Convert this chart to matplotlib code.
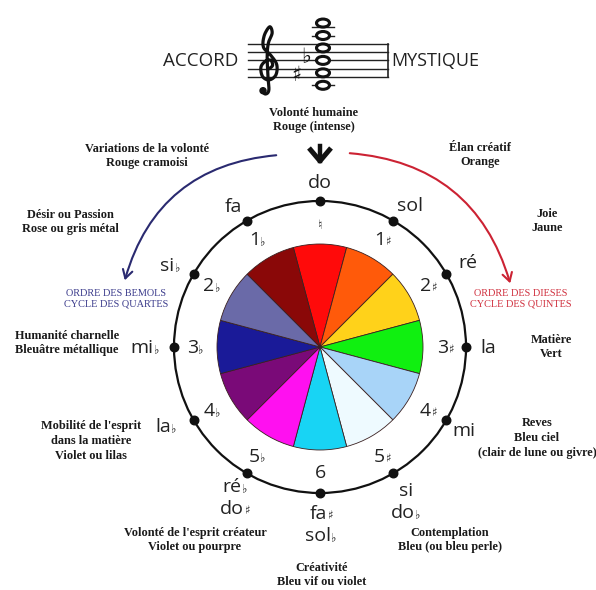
import numpy as np
import matplotlib
matplotlib.use("Agg")
import matplotlib.pyplot as plt
from matplotlib.patches import Ellipse, FancyArrowPatch, Circle

# ---------------- data ----------------
slice_values = [1] * 12
slice_colors = ["#ff0a0a", "#ff5a0a", "#ffd21a", "#10f010", "#a8d4f8", "#eefaff",
                "#18d4f4", "#ff10f0", "#7a0a78", "#1a1a98", "#6a6aa8", "#8a0808"]
# outer note names (clockwise from top); each entry = lines, each line = list of (text, is_accidental)
note_names = [
    [[("do", 0)]],
    [[("sol", 0)]],
    [[("ré", 0)]],
    [[("la", 0)]],
    [[("mi", 0)]],
    [[("si", 0)], [("do", 0), ("♭", 1)]],
    [[("fa", 0), ("♯", 1)], [("sol", 0), ("♭", 1)]],
    [[("ré", 0), ("♭", 1)], [("do", 0), ("♯", 1)]],
    [[("la", 0), ("♭", 1)]],
    [[("mi", 0), ("♭", 1)]],
    [[("si", 0), ("♭", 1)]],
    [[("fa", 0)]],
]
accidental_counts = [
    [("♮", 1)], [("1", 0), ("♯", 1)], [("2", 0), ("♯", 1)], [("3", 0), ("♯", 1)],
    [("4", 0), ("♯", 1)], [("5", 0), ("♯", 1)], [("6", 0)], [("5", 0), ("♭", 1)],
    [("4", 0), ("♭", 1)], [("3", 0), ("♭", 1)], [("2", 0), ("♭", 1)], [("1", 0), ("♭", 1)],
]
descriptions = [
    "Volonté humaine\nRouge (intense)",
    "Variations de la volonté\nRouge cramoisi",
    "Élan créatif\nOrange",
    "Désir ou Passion\nRose ou gris métal",
    "Joie\nJaune",
    "Humanité charnelle\nBleuâtre métallique",
    "Matière\nVert",
    "Mobilité de l'esprit\ndans la matière\nViolet ou lilas",
    "Reves\nBleu ciel\n(clair de lune ou givre)",
    "Volonté de l'esprit créateur\nViolet ou pourpre",
    "Contemplation\nBleu (ou bleu perle)",
    "Créativité\nBleu vif ou violet",
]
flats_caption = "ORDRE DES BEMOLS\nCYCLE DES QUARTES"
sharps_caption = "ORDRE DES DIESES\nCYCLE DES QUINTES"
title_left = "ACCORD"
title_right = "MYSTIQUE"
chord_steps = [-2, 1, 4, 7, 10, 13]     # staff steps above E4: C4 F#4 Bb4 E5 A5 D6
chord_accidentals = {1: "♯", 4: "♭"}

# ---------------- layout ----------------
W, H = 596, 590
fig = plt.figure(figsize=(W / 100, H / 100), dpi=100)
ax = fig.add_axes([0, 0, 1, 1])
CX, CY = 320, 347
R_PIE, R_RING, R_IN, R_OUT = 103, 146, 125, 166
NOTE_FONT = ["Open Sans", "DejaVu Sans"]
SERIF = ["Liberation Serif", "DejaVu Serif"]
renderer = fig.canvas.get_renderer()

ax.pie(slice_values, colors=slice_colors, startangle=255, counterclock=True,
       radius=R_PIE, center=(CX, CY),
       wedgeprops=dict(edgecolor="#3a2020", linewidth=0.6))
ax.set_xlim(0, W)
ax.set_ylim(H, 0)
ax.set_aspect("equal")
ax.axis("off")

angles = np.deg2rad(np.arange(12) * 30.0)


def pos(r, th):
    return CX + r * np.sin(th), CY - r * np.cos(th)


ring = plt.Circle((CX, CY), R_RING, fill=False, color="#111", lw=1.6)
ax.add_patch(ring)
dx, dy = pos(R_RING, angles)
ax.scatter(dx, dy, s=38, color="#111", zorder=5)


def rich_line(x, y, segs, fs, color="#222"):
    objs = []
    for s, small in segs:
        t = ax.text(0, y, s, fontsize=fs * (0.6 if small else 1.0), ha="left",
                    va="baseline", family=NOTE_FONT, color=color)
        objs.append(t)
    widths = [o.get_window_extent(renderer=renderer).width for o in objs]
    total = sum(widths)
    cur = x - total / 2
    for o, w in zip(objs, widths):
        o.set_x(cur)
        cur += w


def rich_block(x, y, lines, fs, lh):
    n = len(lines)
    for i, line in enumerate(lines):
        ly = y + (i - (n - 1) / 2) * lh + fs * 0.45
        rich_line(x, ly, line, fs)


# outer labels
outer_off = [(0, 1), (7, 1), (4, -2), (2, 0), (0, 0), (3, 10), (1, 11), (-2, 6),
             (-10, -4), (-9, 0), (-6, 1), (-4, 2)]
for i, lines in enumerate(note_names):
    x, y = pos(R_OUT, angles[i])
    ox, oy = outer_off[i]
    rich_block(x + ox, y + oy, lines, 14, 22)

# inner labels
for i, line in enumerate(accidental_counts):
    x, y = pos(R_IN, angles[i])
    fs = 14 if i != 0 else 15
    rich_block(x, y, [line], fs, 20)

# descriptions
desc_pos = [(314, 120), (147, 156), (480, 155), (70, 222), (547, 221), (67, 343),
            (551, 347), (91, 441), (537, 438), (195, 540), (450, 540), (322, 575)]
for txt, (x, y) in zip(descriptions, desc_pos):
    ax.text(x, y, txt, ha="center", va="center", multialignment="center",
            fontsize=8.8, fontweight="bold", family=SERIF, color="#1a1a1a",
            linespacing=1.32)

ax.text(116, 299, flats_caption, ha="center", va="center", fontsize=7.4,
        family=SERIF, color="#3c3c8c", linespacing=1.15)
ax.text(521, 299, sharps_caption, ha="center", va="center", fontsize=7.4,
        family=SERIF, color="#d0303e", linespacing=1.15)

# curved arrows
blue = FancyArrowPatch((279, 155), (124, 283), connectionstyle="arc3,rad=0.35",
                       arrowstyle="->,head_length=6,head_width=3.5", color="#2a2a70",
                       lw=1.5, mutation_scale=1)
red = FancyArrowPatch((347, 153), (511, 286), connectionstyle="arc3,rad=-0.35",
                      arrowstyle="->,head_length=6,head_width=3.5", color="#cc2233",
                      lw=1.5, mutation_scale=1)
ax.add_patch(blue)
ax.add_patch(red)

# chevron at top
ax.plot([309, 320, 331], [148, 161, 148], color="#111", lw=3.6, solid_capstyle="butt")
ax.plot([320, 320], [146, 161], color="#111", lw=3.2)

# staff
STAFF_X0, STAFF_X1, STAFF_BOTTOM, STEP = 248, 388, 77, 4.15
for k in range(5):
    yy = STAFF_BOTTOM - 2 * k * STEP
    ax.plot([STAFF_X0, STAFF_X1], [yy, yy], color="#222", lw=1.0)
ax.plot([STAFF_X1, STAFF_X1], [STAFF_BOTTOM, STAFF_BOTTOM - 8 * STEP], color="#222", lw=1.2)


# treble clef (no installed font has U+1D11E) drawn as a smooth shape
def catmull(pts, n=12):
    pts = np.asarray(pts, float)
    P = np.vstack([pts[0], pts, pts[-1]])
    out = []
    for i in range(1, len(P) - 2):
        p0, p1, p2, p3 = P[i - 1], P[i], P[i + 1], P[i + 2]
        for t in np.linspace(0, 1, n, endpoint=False):
            t2, t3 = t * t, t * t * t
            out.append(0.5 * ((2 * p1) + (-p0 + p2) * t + (2 * p0 - 5 * p1 + 4 * p2 - p3) * t2
                              + (-p0 + 3 * p1 - 3 * p2 + p3) * t3))
    out.append(P[-2])
    return np.array(out)


clef_units = [(0.15, 1.0), (0.55, 1.4), (0.35, 2.0), (-0.25, 1.95), (-0.85, 1.2),
              (-0.65, 0.05), (0.15, -0.35), (0.95, 0.25), (1.05, 1.5), (0.35, 2.6),
              (-0.55, 3.6), (-0.45, 5.0), (0.2, 6.05), (0.5, 5.3), (0.05, 4.1),
              (-0.1, 2.5), (0.0, 0.0), (0.1, -1.6), (-0.3, -2.05), (-0.75, -1.7)]
cu = catmull(clef_units)
CLEF_X, UNIT = 268, 2 * STEP
ax.plot(CLEF_X + cu[:, 0] * UNIT, STAFF_BOTTOM - cu[:, 1] * UNIT, color="#111", lw=2.3,
        solid_capstyle="round")
ax.add_patch(Circle((CLEF_X - 0.6 * UNIT, STAFF_BOTTOM + 1.65 * UNIT), 3.0, color="#111"))

NX = 323
acc_x = {"♯": 296, "♭": 306}
for st in chord_steps:
    yy = STAFF_BOTTOM - st * STEP
    ax.add_patch(Ellipse((NX, yy), 13, 8, facecolor="white", edgecolor="#111", lw=2.2, zorder=4))
    if st in chord_accidentals:
        a = chord_accidentals[st]
        ax.text(acc_x[a], yy + (2 if a == "♯" else -3), a, fontsize=15, ha="center",
                va="center", family=["DejaVu Sans"], color="#111")
for st in [-2, 10, 12]:
    yy = STAFF_BOTTOM - st * STEP
    ax.plot([NX - 11, NX + 11], [yy, yy], color="#222", lw=1.0)

ax.text(238, 61, title_left, ha="right", va="center", fontsize=13.5, family=NOTE_FONT, color="#222")
ax.text(391, 61, title_right, ha="left", va="center", fontsize=13, family=NOTE_FONT, color="#222")

fig.savefig("out.png", dpi=100)
